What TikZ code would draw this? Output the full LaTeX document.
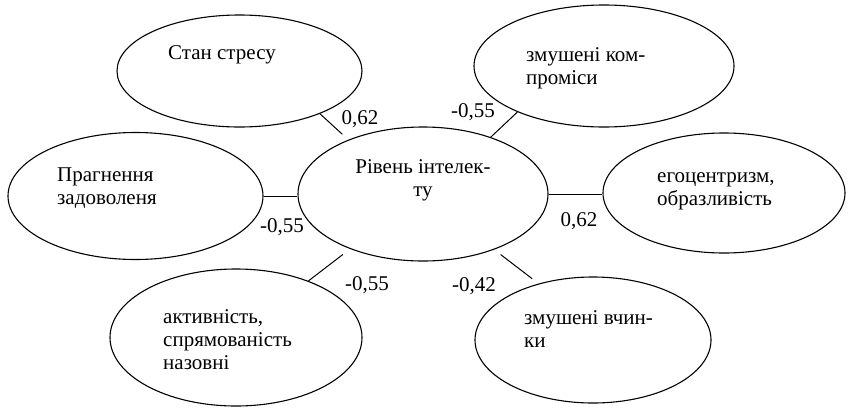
\documentclass[tikz,border=0pt]{standalone}
\usepackage{fontspec}
\setmainfont{Liberation Serif}
\usetikzlibrary{shapes.geometric}
\begin{document}
\begin{tikzpicture}[x=1pt,y=-1pt,
  oval/.style={draw, ellipse, inner sep=0pt, line width=1.1pt},
  link/.style={line width=1pt},
  lbl/.style={anchor=base west, align=left, inner sep=0pt, font=\fontsize{21}{23}\selectfont},
  num/.style={anchor=base, inner sep=0pt, font=\fontsize{21}{23}\selectfont}]
\useasboundingbox (0,0) rectangle (848,407);
% ellipses
\node[oval, minimum width=250pt, minimum height=134pt] (c) at (423,194) {};
\node[oval, minimum width=245pt, minimum height=112pt] (S) at (239.5,71) {};
\node[oval, minimum width=260pt, minimum height=122pt] (T) at (604,66) {};
\node[oval, minimum width=255pt, minimum height=127pt] (L) at (135.5,196) {};
\node[oval, minimum width=242pt, minimum height=120pt] (E) at (724,193) {};
\node[oval, minimum width=252pt, minimum height=137pt] (B) at (236,337.5) {};
\node[oval, minimum width=236pt, minimum height=126pt] (R) at (593,340) {};
% connectors
\draw[link, shorten >=8pt] (S.-28) -- (c.144);
\draw[link] (T.-152) -- (c.40);
\draw[link, shorten >=9pt] (B.38) -- (c.-143);
\draw[link, shorten <=8pt, shorten >=8pt] (c.-38) -- (R.134);
\draw[link] (L.east) -- (L.east -| c.west);
\draw[link] (c.east) -- (c.east -| E.west);
% texts (base = baseline of last line)
\node[lbl] (tS) at (168,59) {Стан стресу};
\node[lbl] (tL) at (57,204) {Прагнення\\задоволеня};
\node[lbl, align=center, anchor=base] (tc) at (423,196) {Рівень інтелек-\\ту};
\node[lbl] (tT) at (526,84) {змушені ком-\\проміси};
\node[lbl] (tE) at (657,205) {егоцентризм,\\образливість};
\node[lbl] (tB) at (163,369) {активність,\\спрямованість\\назовні};
\node[lbl] (tR) at (524,347) {змушені вчин-\\ки};
% numbers
\node[num] (n1) at (360,124) {0,62};
\node[num] (n2) at (473,117) {-0,55};
\node[num] (n3) at (282,232) {-0,55};
\node[num] (n4) at (579,226) {0,62};
\node[num] (n5) at (367,290) {-0,55};
\node[num] (n6) at (474,291) {-0,42};
\end{tikzpicture}
\end{document}
